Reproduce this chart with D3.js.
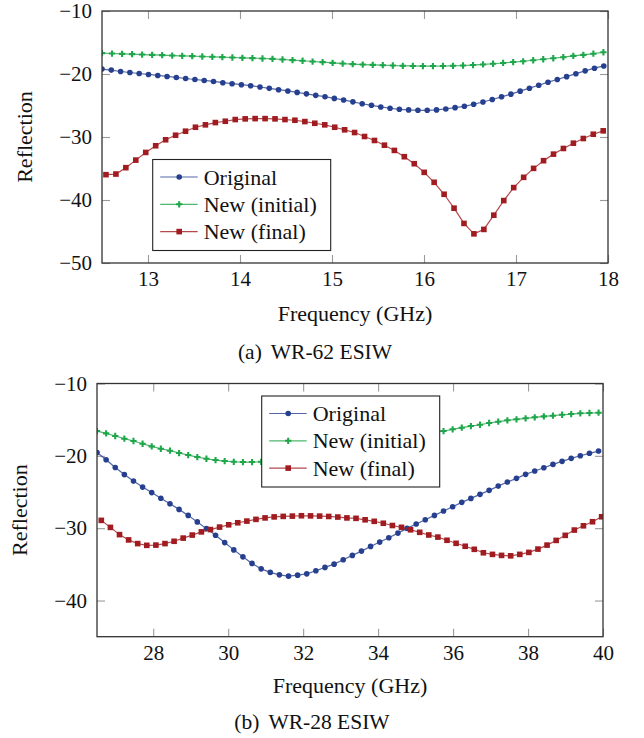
<!DOCTYPE html>
<html>
<head>
<meta charset="utf-8">
<script src="https://cdn.jsdelivr.net/npm/d3@7"></script>
<style>
body { margin: 0; background: #fff; }
svg text { font-family: "Liberation Serif", "DejaVu Serif", serif; fill: #111; }
</style>
</head>
<body>
<div id="chart-area"></div>
<script>
// SVG Size
var width = 644,
    height = 738;

var serif = "'Liberation Serif', 'DejaVu Serif', serif";

var seriesNames = ["Original", "New (initial)", "New (final)"];
var seriesColors = ["#26408f", "#1fa64a", "#a01c20"];
var seriesMarks = ["circle", "cross", "square"];

// (a) WR-62 ESIW
var wr62Ticks = [13, 14, 15, 16, 17, 18];
var wr62YTicks = [-10, -20, -30, -40, -50];
var wr62FreqOriginal = d3.range(55).map(i => 12.5 + i * 0.101);
var wr62FreqInitial = d3.range(51).map(i => 12.5 + i * 0.109);
var wr62FreqFinal = d3.range(51).map(i => 12.543 + i * 0.1081);

var wr62Original = [-19.22, -19.38, -19.6, -19.76, -19.92, -20.07, -20.23, -20.39, -20.55, -20.71,
    -20.87, -21.02, -21.18, -21.38, -21.54, -21.7, -21.86, -22.06, -22.28, -22.49,
    -22.69, -22.92, -23.15, -23.39, -23.6, -23.87, -24.12, -24.42, -24.72, -24.97,
    -25.23, -25.44, -25.6, -25.7, -25.76, -25.76, -25.7, -25.55, -25.34, -25.13,
    -24.8, -24.45, -24.05, -23.62, -23.2, -22.72, -22.25, -21.78, -21.3, -20.88,
    -20.42, -19.95, -19.5, -19.08, -18.72];
var wr62Initial = [-16.69, -16.75, -16.8, -16.85, -16.91, -16.96, -17.01, -17.07, -17.11, -17.17,
    -17.22, -17.27, -17.32, -17.38, -17.43, -17.48, -17.54, -17.6, -17.7, -17.8,
    -17.9, -18.02, -18.12, -18.23, -18.34, -18.43, -18.5, -18.55, -18.6, -18.65,
    -18.7, -18.72, -18.74, -18.74, -18.73, -18.7, -18.65, -18.58, -18.48, -18.37,
    -18.25, -18.1, -17.98, -17.82, -17.66, -17.5, -17.33, -17.13, -16.96, -16.78,
    -16.55];
var wr62Final = [-35.98, -35.88, -34.87, -33.67, -32.45, -31.39, -30.44, -29.72, -29.08, -28.45,
    -28.07, -27.71, -27.5, -27.23, -27.12, -27.08, -27.08, -27.12, -27.23, -27.34,
    -27.55, -27.82, -28.07, -28.45, -28.86, -29.29, -29.92, -30.55, -31.3, -32.13,
    -33.13, -34.24, -35.61, -37.19, -39.09, -41.3, -43.72, -45.37, -44.67, -42.41,
    -40.09, -38.03, -36.4, -34.98, -33.76, -32.72, -31.82, -30.98, -30.24, -29.56,
    -29.02];

// (b) WR-28 ESIW
var wr28Ticks = [28, 30, 32, 34, 36, 38, 40];
var wr28YTicks = [-10, -20, -30, -40];
var wr28FreqOriginal = d3.range(56).map(i => 26.5 + i * 0.2433);
var wr28FreqInitial = d3.range(56).map(i => 26.5 + i * 0.2433);
var wr28FreqFinal = d3.range(56).map(i => 26.615 + i * 0.2427);

var wr28Original = [-19.54, -20.54, -21.62, -22.59, -23.49, -24.32, -25.08, -25.86, -26.63, -27.4,
    -28.23, -29.13, -30.06, -30.98, -31.99, -33.0, -33.96, -34.87, -35.62, -36.11,
    -36.45, -36.63, -36.49, -36.31, -35.89, -35.42, -34.97, -34.37, -33.76, -33.17,
    -32.52, -31.92, -31.33, -30.68, -30.03, -29.43, -28.84, -28.23, -27.63, -27.04,
    -26.43, -25.88, -25.32, -24.77, -24.18, -23.62, -23.11, -22.56, -22.1, -21.65,
    -21.18, -20.76, -20.35, -19.99, -19.65, -19.34];
var wr28Initial = [-16.57, -16.89, -17.26, -17.63, -17.95, -18.33, -18.69, -19.02, -19.29, -19.61,
    -19.89, -20.17, -20.4, -20.58, -20.72, -20.82, -20.86, -20.86, -20.82, -20.84,
    -20.77, -20.68, -20.54, -20.36, -20.15, -19.92, -19.67, -19.41, -19.13, -18.85,
    -18.58, -18.3, -18.02, -17.75, -17.47, -17.21, -16.96, -16.75, -16.57, -16.33,
    -16.11, -15.88, -15.7, -15.46, -15.28, -15.09, -14.95, -14.81, -14.67, -14.54,
    -14.45, -14.32, -14.22, -14.12, -14.08, -14.04];
var wr28Final = [-28.92, -29.89, -30.89, -31.62, -32.13, -32.37, -32.34, -32.13, -31.81, -31.37,
    -30.95, -30.51, -30.19, -29.85, -29.53, -29.25, -29.02, -28.78, -28.58, -28.44,
    -28.37, -28.33, -28.28, -28.3, -28.33, -28.38, -28.46, -28.58, -28.64, -28.84,
    -29.05, -29.32, -29.63, -29.88, -30.22, -30.57, -30.94, -31.23, -31.67, -32.09,
    -32.5, -32.92, -33.4, -33.62, -33.76, -33.82, -33.62, -33.35, -32.89, -32.34,
    -31.69, -30.99, -30.26, -29.67, -29.11, -28.42];

var svg = d3.select("#chart-area")
    .append("svg")
    .attr("width", width)
    .attr("height", height)
    .attr("font-family", serif);

function drawMark(sel, type, color) {
    if (type == "circle") {
        sel.append("circle").attr("r", 2.8).attr("fill", color);
    } else if (type == "square") {
        sel.append("rect").attr("x", -2.8).attr("y", -2.8)
            .attr("width", 5.6).attr("height", 5.6).attr("fill", color);
    } else {
        sel.append("path").attr("d", d3.symbol().type(d3.symbolCross).size(22)).attr("fill", color);
    }
}

function drawPanel(p, id) {
    var g = svg.append("g");

    var xScale = d3.scaleLinear().domain(p.xDomain).range([p.left, p.right]);
    var yScale = d3.scaleLinear().domain(p.yDomain).range([p.bottom, p.top]);

    g.append("clipPath").attr("id", "clip" + id)
        .append("rect")
        .attr("x", p.left).attr("y", p.top)
        .attr("width", p.right - p.left).attr("height", p.bottom - p.top);

    // inward ticks on all four sides
    var axes = [
        [d3.axisBottom(xScale).tickValues(p.xTicks).tickFormat(d3.format("d")), "translate(0," + p.bottom + ")"],
        [d3.axisTop(xScale).tickValues(p.xTicks).tickFormat(""), "translate(0," + p.top + ")"],
        [d3.axisLeft(yScale).tickValues(p.yTicks).tickFormat(d3.format("d")), "translate(" + p.left + ",0)"],
        [d3.axisRight(yScale).tickValues(p.yTicks).tickFormat(""), "translate(" + p.right + ",0)"]
    ];
    axes.forEach(function(a, k) {
        var ax = g.append("g")
            .attr("transform", a[1])
            .call(a[0].tickSize(-8).tickPadding(k == 0 ? 8.5 : 10));
        ax.select(".domain").remove();
        ax.attr("font-family", serif).attr("font-size", 21);
        ax.selectAll(".tick line").attr("stroke", "#9a9a9a").attr("stroke-width", 1.1);
        ax.selectAll(".tick text").attr("fill", "#111").attr("font-family", serif);
    });

    // series
    var plot = g.append("g").attr("clip-path", "url(#clip" + id + ")");
    p.series.forEach(function(s, k) {
        var pts = s.freq.map((f, i) => [f, s.values[i]]);
        var line = d3.line()
            .x(d => xScale(d[0]))
            .y(d => yScale(d[1]));
        plot.append("path")
            .datum(pts)
            .attr("fill", "none")
            .attr("stroke", seriesColors[k])
            .attr("stroke-opacity", 0.8)
            .attr("stroke-width", 1.2)
            .attr("d", line);
        plot.selectAll(".m" + k)
            .data(pts)
            .enter()
            .append("g")
            .attr("transform", d => "translate(" + xScale(d[0]) + "," + yScale(d[1]) + ")")
            .each(function() { drawMark(d3.select(this), seriesMarks[k], seriesColors[k]); });
    });

    // frame
    g.append("rect")
        .attr("x", p.left).attr("y", p.top)
        .attr("width", p.right - p.left).attr("height", p.bottom - p.top)
        .attr("fill", "none")
        .attr("stroke", "#333")
        .attr("stroke-width", 1.3);

    // legend
    var leg = g.append("g").attr("transform", "translate(" + p.legend[0] + "," + p.legend[1] + ")");
    leg.append("rect")
        .attr("width", 178).attr("height", 91)
        .attr("fill", "#fff")
        .attr("stroke", "#222")
        .attr("stroke-width", 1.1);
    seriesNames.forEach(function(name, k) {
        var row = leg.append("g").attr("transform", "translate(0," + (17.5 + k * 27.3) + ")");
        row.append("line")
            .attr("x1", 7.5).attr("x2", 45)
            .attr("stroke", seriesColors[k])
            .attr("stroke-opacity", 0.8)
            .attr("stroke-width", 1.2);
        drawMark(row.append("g").attr("transform", "translate(26.5,0)"), seriesMarks[k], seriesColors[k]);
        row.append("text")
            .attr("x", 51)
            .attr("y", 7.5)
            .attr("font-family", serif)
            .attr("font-size", 22)
            .text(name);
    });

    // axis labels
    g.append("text")
        .attr("text-anchor", "middle")
        .attr("font-family", serif)
        .attr("font-size", 22)
        .attr("transform", "translate(" + p.ylabelX + "," + ((p.top + p.bottom) / 2) + ")rotate(-90)")
        .text("Reflection");

    g.append("text")
        .attr("text-anchor", "middle")
        .attr("font-family", serif)
        .attr("font-size", 22)
        .attr("x", (p.left + p.right) / 2)
        .attr("y", p.xlabelY)
        .text("Frequency (GHz)");

    var cap = g.append("text")
        .attr("text-anchor", "middle")
        .attr("font-family", serif)
        .attr("font-size", 21.5)
        .attr("x", p.captionX)
        .attr("y", p.captionY);
    cap.append("tspan").text(p.captionTag);
    cap.append("tspan").attr("dx", 9).text(p.caption);
}

drawPanel({
    left: 102, right: 608, top: 11, bottom: 263,
    xDomain: [12.5, 18], yDomain: [-50, -10],
    xTicks: wr62Ticks, yTicks: wr62YTicks,
    series: [
        {freq: wr62FreqOriginal, values: wr62Original},
        {freq: wr62FreqInitial, values: wr62Initial},
        {freq: wr62FreqFinal, values: wr62Final}
    ],
    legend: [152.7, 159.5],
    ylabelX: 32, xlabelY: 321,
    captionTag: "(a)", caption: "WR-62 ESIW", captionX: 315, captionY: 359
}, "a");

drawPanel({
    left: 97, right: 603, top: 383.5, bottom: 636.7,
    xDomain: [26.5, 40], yDomain: [-45, -10],
    xTicks: wr28Ticks, yTicks: wr28YTicks,
    series: [
        {freq: wr28FreqOriginal, values: wr28Original},
        {freq: wr28FreqInitial, values: wr28Initial},
        {freq: wr28FreqFinal, values: wr28Final}
    ],
    legend: [261.7, 396],
    ylabelX: 27, xlabelY: 693,
    captionTag: "(b)", caption: "WR-28 ESIW", captionX: 312, captionY: 729
}, "b");
</script>
</body>
</html>
